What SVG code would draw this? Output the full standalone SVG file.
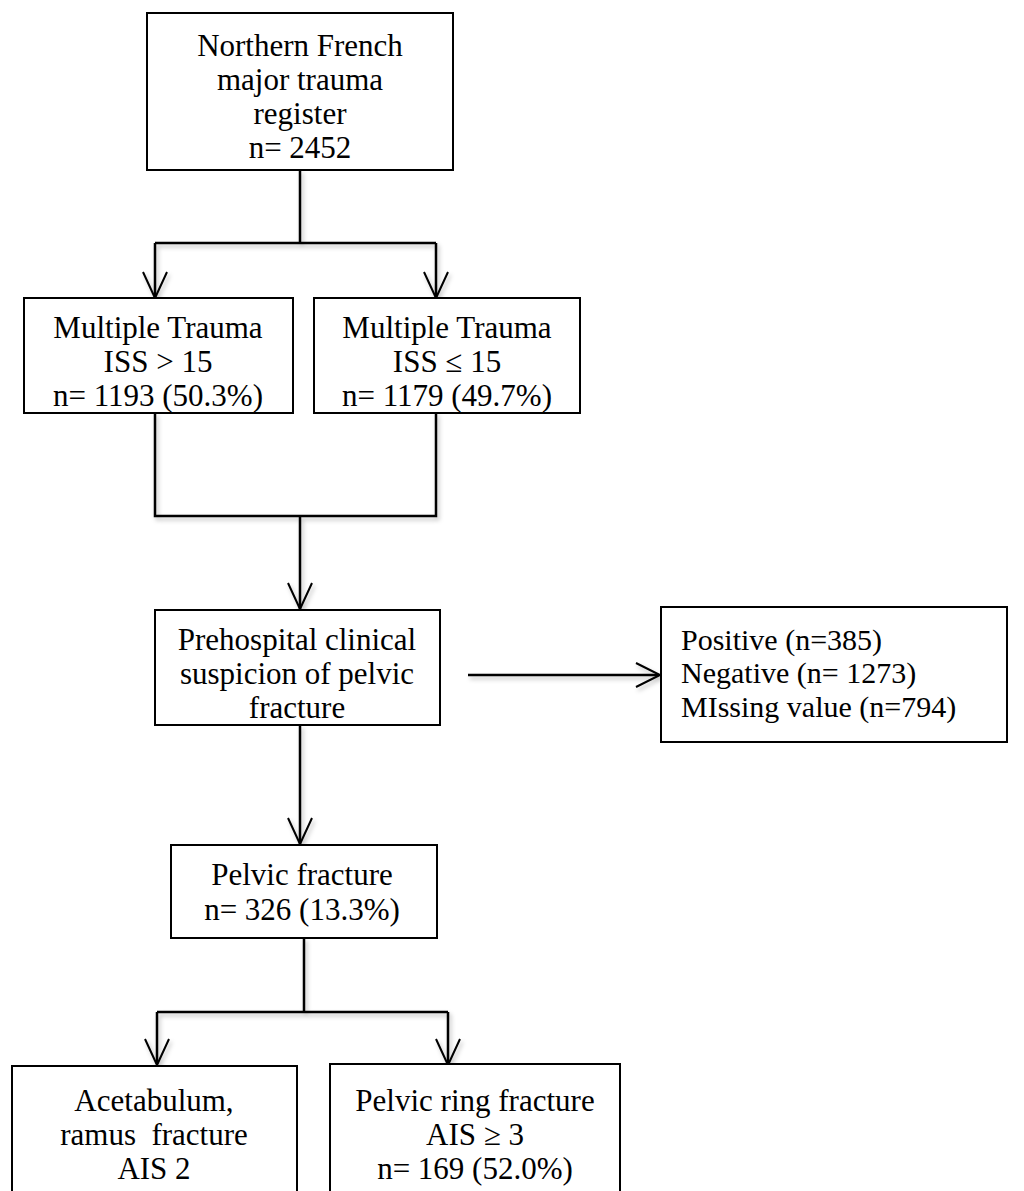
<svg xmlns="http://www.w3.org/2000/svg" width="1024" height="1191" viewBox="0 0 1024 1191">
<defs>
<style>
.box{fill:#fff;stroke:#000;stroke-width:2}
.t{font-family:"Liberation Serif","Times New Roman",serif;font-size:31px;fill:#000;text-anchor:middle}
.tl{font-family:"Liberation Serif","Times New Roman",serif;font-size:30px;fill:#000;text-anchor:start}
.c{fill:none;stroke:#000;stroke-width:2.5}
.ah{fill:none;stroke:#000;stroke-width:2}
</style>
<filter id="sh" x="-20%" y="-20%" width="140%" height="140%">
<feDropShadow dx="2" dy="3" stdDeviation="2" flood-color="#000" flood-opacity="0.25"/>
</filter>
</defs>
<rect width="1024" height="1191" fill="#fff"/>
<g id="connectors" filter="url(#sh)">
<path class="c" d="M300,170 V243 M155,243 H436 M155,243 V297 M436,243 V297"/>
<path class="ah" d="M143,272 L155,298 L167,272 M424,272 L436,298 L448,272"/>
<path class="c" d="M155,413 V516 H436 V413 M300,516 V609"/>
<path class="ah" d="M288,583 L300,609 L312,583"/>
<path class="c" d="M468,675 H659"/>
<path class="ah" d="M636,663 L660,675 L636,687"/>
<path class="c" d="M300,725 V844"/>
<path class="ah" d="M288,818 L300,844 L312,818"/>
<path class="c" d="M304,938 V1012 M157,1012 H448 M157,1012 V1064 M448,1012 V1064"/>
<path class="ah" d="M145,1039 L157,1065 L169,1039 M436,1039 L448,1065 L460,1039"/>
</g>
<g id="n1">
<rect class="box" x="147" y="13" width="306" height="157"/>
<text class="t" x="300" y="56">Northern French</text>
<text class="t" x="300" y="90">major trauma</text>
<text class="t" x="300" y="124">register</text>
<text class="t" x="300" y="158">n= 2452</text>
</g>
<g id="n2">
<rect class="box" x="24" y="298" width="269" height="115"/>
<text class="t" x="158" y="338">Multiple Trauma</text>
<text class="t" x="158" y="372">ISS &gt; 15</text>
<text class="t" x="158" y="406">n= 1193 (50.3%)</text>
</g>
<g id="n3">
<rect class="box" x="314" y="298" width="266" height="115"/>
<text class="t" x="447" y="338">Multiple Trauma</text>
<text class="t" x="447" y="372">ISS ≤ 15</text>
<text class="t" x="447" y="406">n= 1179 (49.7%)</text>
</g>
<g id="n4">
<rect class="box" x="155" y="610" width="285" height="115"/>
<text class="t" x="297" y="650">Prehospital clinical</text>
<text class="t" x="297" y="684">suspicion of pelvic</text>
<text class="t" x="297" y="718">fracture</text>
</g>
<g id="n5">
<rect class="box" x="661" y="607" width="346" height="135"/>
<text class="tl" x="681" y="650">Positive (n=385)</text>
<text class="tl" x="681" y="683">Negative (n= 1273)</text>
<text class="tl" x="681" y="717">MIssing value (n=794)</text>
</g>
<g id="n6">
<rect class="box" x="171" y="845" width="266" height="93"/>
<text class="t" x="302" y="885">Pelvic fracture</text>
<text class="t" x="302" y="920">n= 326 (13.3%)</text>
</g>
<g id="n7">
<rect class="box" x="12" y="1066" width="285" height="140"/>
<text class="t" x="154" y="1111">Acetabulum,</text>
<text class="t" x="154" y="1145" xml:space="preserve">ramus  fracture</text>
<text class="t" x="154" y="1179">AIS 2</text>
</g>
<g id="n8">
<rect class="box" x="330" y="1064" width="290" height="140"/>
<text class="t" x="475" y="1111">Pelvic ring fracture</text>
<text class="t" x="475" y="1145">AIS ≥ 3</text>
<text class="t" x="475" y="1179">n= 169 (52.0%)</text>
</g>
</svg>
